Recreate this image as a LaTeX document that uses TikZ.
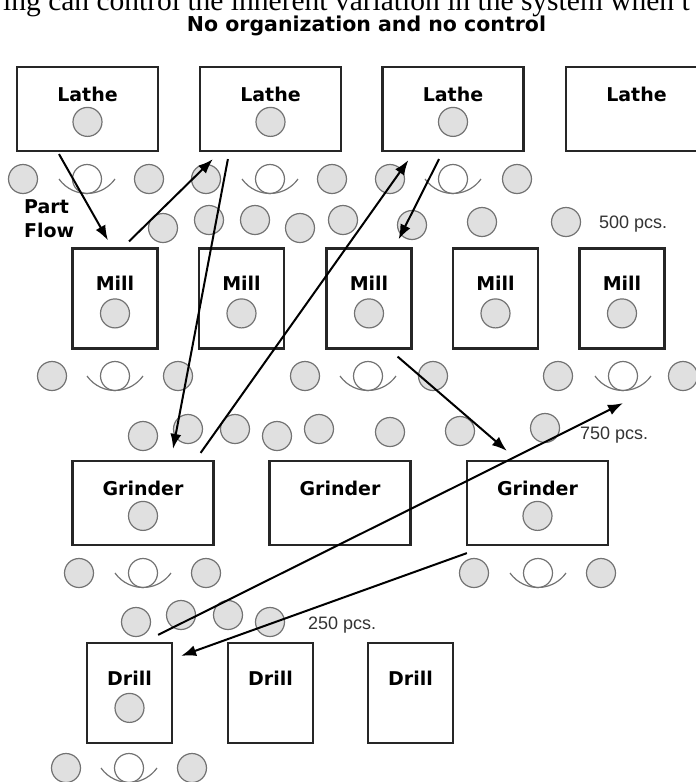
\documentclass[tikz,border=0pt]{standalone}
\usepackage{fontspec}
\setmainfont{Liberation Serif}
\newfontfamily\labelfont{DejaVu Sans}
\newfontfamily\pcsfont{Liberation Sans}
\usetikzlibrary{arrows.meta}
\tikzset{>={Latex[length=15pt,width=11pt]}}

\begin{document}
\begin{tikzpicture}[x=1pt,y=1pt,
	machine/.style={draw=black!85,line width=2.2pt,fill=white,inner sep=0pt},
	widebox/.style={machine,minimum width=141pt,minimum height=84pt},
	tallbox/.style={machine,minimum width=85pt,minimum height=100pt},
	part/.style={circle,draw=black!55,fill=black!12,line width=1.2pt,minimum size=29pt,inner sep=0pt},
	worker/.style={part,fill=white},
	seat/.style={draw=black!55,line width=1.2pt},
	flow/.style={->,line width=2pt},
	boxlabel/.style={font=\labelfont\bfseries\fontsize{19}{19}\selectfont,anchor=base,inner sep=0pt},
	qty/.style={font=\pcsfont\fontsize{18}{18}\selectfont,anchor=base west,inner sep=0pt,text=black!80}]

	\useasboundingbox (0,0) rectangle (696,-782);
	\clip (0,0) rectangle (696,-782);

	% cut line of text above, and title
	\node[anchor=base west,inner sep=0pt,font=\fontsize{29.5}{30}\selectfont] (cut) at (3,-10.5)
		{ing can control the inherent variation in the system when t};
	\node[anchor=base,inner sep=0pt,font=\labelfont\bfseries\fontsize{20.5}{21}\selectfont] (title) at (366.5,-31)
		{No organization and no control};

	% machines
	\foreach \x [count=\i] in {87.5,270.5,453,636.5} {
		\node[widebox] (lathe\i) at (\x,-109) {};
		\node[boxlabel] (lathetxt\i) at ([yshift=-36pt]lathe\i.north) {Lathe};
	}
	\foreach \x [count=\i] in {115,241.5,369,495.5,622} {
		\node[tallbox] (mill\i) at (\x,-298.5) {};
		\node[boxlabel] (milltxt\i) at ([yshift=-43pt]mill\i.north) {Mill};
	}
	\foreach \x [count=\i] in {143,340,537.5} {
		\node[widebox] (grind\i) at (\x,-503) {};
		\node[boxlabel] (grindtxt\i) at ([yshift=-36pt]grind\i.north) {Grinder};
	}
	\foreach \x [count=\i] in {129.5,270.5,410.5} {
		\node[tallbox] (drill\i) at (\x,-693) {};
		\node[boxlabel] (drilltxt\i) at ([yshift=-44pt]drill\i.north) {Drill};
	}

	% parts in the machines
	\foreach \m in {lathe1,lathe2,lathe3,grind1,grind3}
		\node[part] (\m p) at ([yshift=-56pt]\m.north) {};
	\foreach \m in {mill1,mill2,mill3,mill4,mill5,drill1}
		\node[part] (\m p) at ([yshift=-66pt]\m.north) {};

	% parts waiting
	\foreach \x/\y [count=\i] in {23/179,149/179,206/179,332/179,390/179,517/179,
			163/228,209/220,255/220,300/228,343/220,412/225,482/222,566/222,
			52/376,178/376,305/376,433/376,558/376,683/376,
			143/436,188/429,235/429,277/436,319/429,390/432,460/431,545/428,
			79/573,206/573,474/573,601/573,
			136/622,181/615,228/615,270/622,
			66/768,192/768}
		\node[part] (q\i) at (\x,-\y) {};

	% operators
	\foreach \x/\y [count=\i] in {87/179,270/179,453/179,115/376,368/376,623/376,143/573,538/573,129/768} {
		\node[worker] (w\i) at (\x,-\y) {};
		\draw[seat] ([xshift=-28pt]w\i.center) arc[start angle=215.3,end angle=324.7,radius=34.3pt];
	}

	\node[anchor=north west,align=left,inner sep=0pt,font=\labelfont\bfseries\fontsize{19}{24}\selectfont] (pf) at (24,-199) {Part\\Flow};
	\node[qty] (n500) at (599,-228) {500 pcs.};
	\node[qty] (n750) at (580,-439) {750 pcs.};
	\node[qty] (n250) at (308,-629) {250 pcs.};

	% part flow
	\draw[flow] ([shift={(-28.5,-2)}]lathe1.south) -- ([shift={(-7,7)}]mill1.north);
	\draw[flow] ([shift={(14,6)}]mill1.north) -- ([shift={(14,-7)}]lathe2.south west);
	\draw[flow] ([shift={(29,-7)}]lathe2.south west) -- ([shift={(30,11)}]grind1.north);
	\draw[flow] ([shift={(-14,7)}]grind1.north east) -- ([shift={(27,-8)}]lathe3.south west);
	\draw[flow] ([shift={(-14,-7)}]lathe3.south) -- ([shift={(-14,8)}]mill3.north east);
	\draw[flow] ([shift={(-15,-7)}]mill3.south east) -- ([shift={(41,9)}]grind3.north west);
	\draw[flow] ([shift={(-15,7)}]drill1.north east) -- ([yshift=-12pt]w6.south);
	\draw[flow] ([shift={(1,-7)}]grind3.south west) -- ([shift={(8,-14)}]drill1.north east);
\end{tikzpicture}
\end{document}
